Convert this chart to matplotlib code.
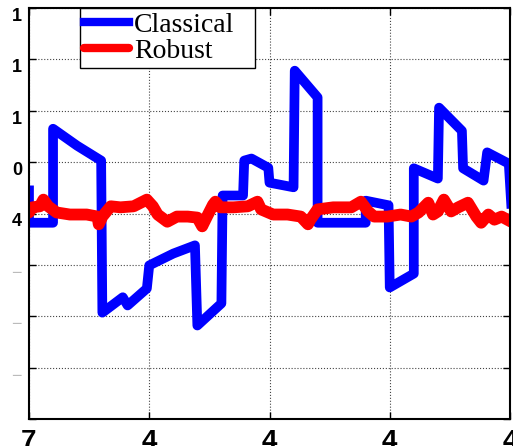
import matplotlib.pyplot as plt

# classical estimate (stepwise), sample index vs value
classical_x = [0, 0, 20, 20, 40, 60, 61, 78, 82, 98, 100, 120, 138, 140, 160, 161,
               178, 179, 185, 199, 200, 220, 221, 240, 240, 280, 280, 299, 300, 320,
               320, 340, 341, 360, 361, 378, 381, 399, 401]
classical_y = [0.45, -0.18, -0.18, 1.65, 1.32, 1.03, -1.93, -1.63, -1.79, -1.46,
               -1.01, -0.78, -0.62, -2.18, -1.75, 0.35, 0.35, 1.03, 1.07, 0.89,
               0.60, 0.51, 2.78, 2.26, -0.18, -0.18, 0.25, 0.16, -1.44, -1.17,
               0.88, 0.68, 2.06, 1.61, 0.88, 0.64, 1.19, 0.97, 0.19]

# robust estimate
robust_x = [0, 3, 9, 12, 16, 23, 34, 48, 57, 58, 61, 68, 76, 87, 98, 103, 107, 115,
            123, 132, 140, 144, 148, 153, 155, 159, 170, 182, 190, 193, 203, 215,
            226, 232, 234, 240, 253, 268, 276, 282, 287, 298, 309, 318, 324, 332,
            336, 340, 345, 351, 357, 365, 372, 376, 382, 387, 393, 401]
robust_y = [0.02, 0.12, 0.14, 0.27, 0.14, 0.02, -0.02, -0.02, -0.06, -0.21, -0.06,
            0.14, 0.12, 0.14, 0.27, 0.14, -0.02, -0.16, -0.06, -0.06, -0.08, -0.25,
            -0.06, 0.17, 0.23, 0.12, 0.12, 0.14, 0.23, 0.08, -0.02, -0.02, -0.06,
            -0.21, -0.12, 0.08, 0.12, 0.12, 0.23, 0.04, -0.06, -0.06, -0.02, -0.06,
            0.02, 0.21, -0.02, 0.04, 0.27, 0.04, 0.12, 0.21, -0.06, -0.18, -0.02,
            -0.12, -0.06, -0.16]

xticks = [0, 100, 200, 300, 400]
xlabels = ["7", "4", "4", "4", "4"]
yticks = [-4, -3, -2, -1, 0, 1, 2, 3, 4]
ylabels = ["", "\u2212", "\u2212", "\u2212", "4", "0", "1", "1", "1"]
ycolors = ["k", "#bbbbbb", "#bbbbbb", "#bbbbbb", "k", "k", "k", "k", "k"]

fig = plt.figure(figsize=(5.13, 4.46), dpi=100)
ax = fig.add_axes([29 / 513, 27 / 446, 481 / 513, 411 / 446])

ax.plot(classical_x, classical_y, color="#0000ff", lw=7, label="Classical",
        solid_joinstyle="round")
ax.plot(robust_x, robust_y, color="#ff0000", lw=8.5, label="Robust",
        solid_joinstyle="round", solid_capstyle="round")

ax.set_xlim(0, 400)
ax.set_ylim(-4, 4)
ax.set_xticks(xticks)
ax.set_xticklabels(xlabels, fontsize=20, fontweight="bold", family="Liberation Sans")
ax.set_yticks(yticks)
ax.set_yticklabels(ylabels, fontsize=13, fontweight="bold", family="Liberation Sans")
for lbl, c in zip(ax.get_yticklabels(), ycolors):
    lbl.set_color(c)
    lbl.set_va("top")
    if c != "k":
        lbl.set_fontweight("normal")

ax.tick_params(direction="in", length=5, width=1, top=True, right=True, pad=5)
ax.tick_params(axis="x", pad=7)
ax.grid(True, linestyle=":", color="#444444", lw=0.8)
for s in ax.spines.values():
    s.set_linewidth(1.5)

leg = ax.legend(loc="upper left", bbox_to_anchor=(0.106, 0.85, 0.364, 0.15),
                mode="expand", borderaxespad=0,
                prop={"family": "Liberation Serif", "size": 20}, fancybox=False,
                edgecolor="black", framealpha=1, handlelength=1.6,
                handletextpad=0.2, labelspacing=0.02, borderpad=0.15)
leg.get_frame().set_linewidth(1)
for h in leg.get_lines():
    h.set_linewidth(6)

fig.savefig("out.png", dpi=100)
